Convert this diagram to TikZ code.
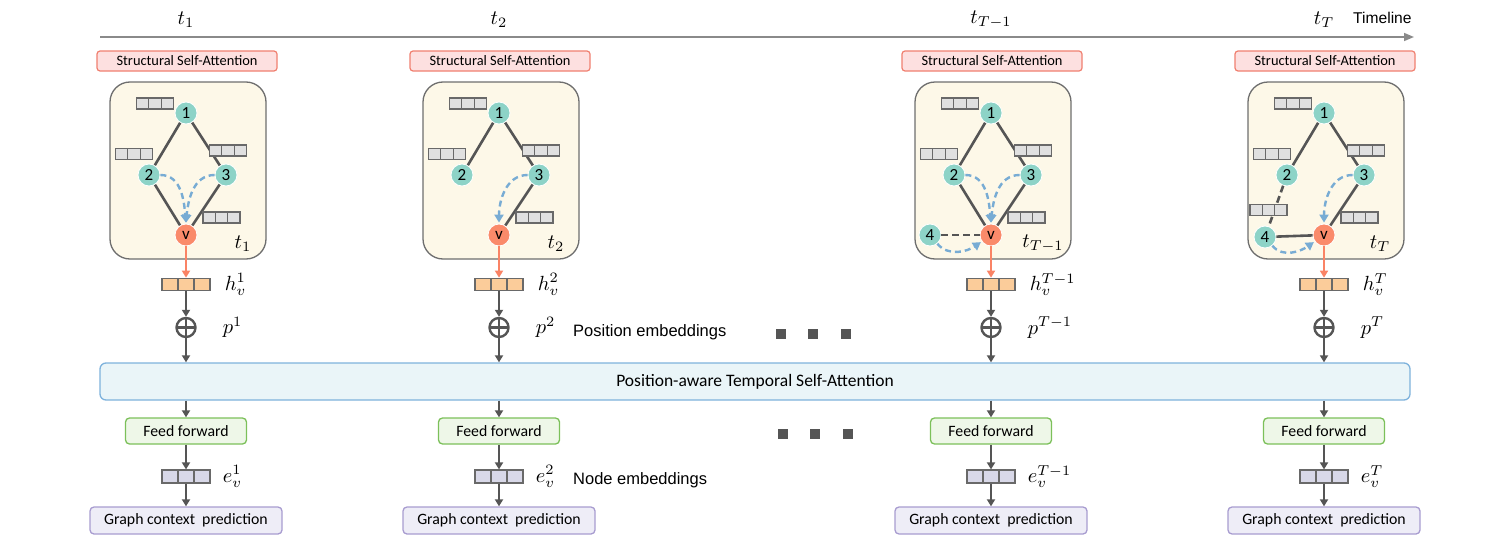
\RequirePackage{fix-cm}
\documentclass[tikz,border=0pt]{standalone}
\usepackage{graphicx}
\usepackage{fontspec}
\setmainfont{Carlito}
\newfontfamily\arialfont{Liberation Sans}
\newcommand{\mlab}[1]{\scalebox{2.05}{$#1$}}
\definecolor{ssaline}{RGB}{240,128,112}
\definecolor{ssafill}{RGB}{253,224,224}
\definecolor{snapfill}{RGB}{253,248,232}
\definecolor{snapline}{RGB}{110,110,110}
\definecolor{nodeteal}{RGB}{141,211,199}
\definecolor{nodev}{RGB}{250,138,106}
\definecolor{edgegray}{RGB}{85,85,85}
\definecolor{attblue}{RGB}{120,172,212}
\definecolor{cellgray}{RGB}{224,224,224}
\definecolor{cellline}{RGB}{105,105,105}
\definecolor{hfill}{RGB}{251,204,154}
\definecolor{efill}{RGB}{216,216,232}
\definecolor{tsafill}{RGB}{234,245,248}
\definecolor{tsaline}{RGB}{126,178,220}
\definecolor{fffill}{RGB}{238,247,232}
\definecolor{ffline}{RGB}{124,192,90}
\definecolor{gcpfill}{RGB}{238,237,247}
\definecolor{gcpline}{RGB}{168,156,208}
\definecolor{tlgray}{RGB}{138,138,138}
\usetikzlibrary{arrows.meta,positioning}
\tikzset{
  ssabox/.style={draw=ssaline, fill=ssafill, line width=1.2pt, rounded corners=3pt, minimum width=180pt, minimum height=20pt, inner sep=0pt, font=\fontsize{14.4}{16}\selectfont},
  snapbox/.style={draw=snapline, fill=snapfill, line width=1.3pt, rounded corners=20pt, minimum width=156pt, minimum height=177pt},
  gnode/.style={circle, fill=nodeteal, draw=white, line width=0.8pt, minimum size=22pt, inner sep=0pt, font=\fontsize{17}{17}\selectfont},
  vnode/.style={gnode, fill=nodev},
  cells/.style 2 args={draw=cellline, fill=#1, line width=1.2pt, minimum width=#2, minimum height=11pt, inner sep=0pt,
    path picture={\draw[cellline, line width=1.2pt]
      ([xshift=#2/3]path picture bounding box.north west) -- ([xshift=#2/3]path picture bounding box.south west)
      ([xshift=2*#2/3]path picture bounding box.north west) -- ([xshift=2*#2/3]path picture bounding box.south west);}},
  gedge/.style={edgegray, line width=2.6pt},
  gdash/.style={gedge, dash pattern=on 7pt off 4pt},
  attn/.style={-{Triangle[length=8pt,width=9pt]}, attblue, line width=2.4pt, dash pattern=on 6pt off 4pt, shorten >=1pt},
  flow/.style={-{Triangle[length=7pt,width=8pt]}, edgegray, line width=2.2pt},
  vflow/.style={flow, color=nodev!95!red},
  oplus/.style={circle, draw=edgegray, line width=2.4pt, minimum size=19pt, inner sep=0pt,
    path picture={\draw[edgegray, line width=2.4pt] (path picture bounding box.north) -- (path picture bounding box.south)
      (path picture bounding box.west) -- (path picture bounding box.east);}},
  tsabox/.style={draw=tsaline, fill=tsafill, line width=1.3pt, rounded corners=6pt, minimum width=1310pt, minimum height=37pt, font=\fontsize{17.5}{18}\selectfont},
  ffbox/.style={draw=ffline, fill=fffill, line width=1.3pt, rounded corners=4pt, minimum width=121pt, minimum height=26pt, font=\fontsize{15.8}{16}\selectfont},
  gcpbox/.style={draw=gcpline, fill=gcpfill, line width=1.3pt, rounded corners=4pt, minimum width=192pt, minimum height=27pt, font=\fontsize{15.8}{16}\selectfont},
  mlabel/.style={inner sep=0pt},
  sidetext/.style={inner sep=0pt, anchor=west, font=\arialfont\fontsize{16.5}{17}\selectfont},
  sqdot/.style={fill=edgegray, minimum size=10pt, inner sep=0pt},
  tline/.style={-{Triangle[length=10pt,width=8pt]}, tlgray, line width=1.5pt}
}
\begin{document}
\begin{tikzpicture}[x=1pt, y=-1pt]
  \useasboundingbox (0,0) rectangle (1504,546);
  % timeline
  \coordinate (tlstart) at (100,37);
  \coordinate (tlend) at (1414,37);
  \draw[tline] (tlstart) -- (tlend);
  \node[sidetext, font=\arialfont\fontsize{15.6}{16}\selectfont] (timeline) at (1353,18) {Timeline};
  % snapshots: structural self-attention
  \foreach \x/\i/\s/\dt in {186/1/1/57, 499/2/2/57, 991/3/T-1/52, 1324/4/T/56}{
    \node[mlabel] (t\i) at (\x,20) {\mlab{t_{\s}}};
    \node[ssabox] (ssa\i) at (\x+1,61) {Structural Self-Attention};
    \node[snapbox] (snap\i) at (\x+2,170.5) {};
    \node[mlabel] (ts\i) at (\x+\dt,244) {\mlab{t_{\s}}};
    \node[gnode] (one\i) at (\x,113) {1};
    \node[gnode] (two\i) at (\x-37,175) {2};
    \node[gnode] (thr\i) at (\x+40,175) {3};
    \node[vnode] (v\i) at (\x,235) {v};
  }
  \node[gnode] (four3) at (930,235) {4};
  \node[gnode] (four4) at (1265,237) {4};
  % graph edges
  \draw[gedge] (one1) -- (two1) (one1) -- (thr1) (two1) -- (v1) (thr1) -- (v1);
  \draw[gedge] (one2) -- (two2) (one2) -- (thr2) (thr2) -- (v2);
  \draw[gedge] (one3) -- (two3) (one3) -- (thr3) (two3) -- (v3) (thr3) -- (v3);
  \draw[gdash] (four3) -- (v3);
  \draw[gedge] (one4) -- (two4) (one4) -- (thr4) (thr4) -- (v4) (four4) -- (v4);
  \draw[gdash] (two4) -- (four4);
  % attention to v
  \draw[attn] (two1.east) to[out=0,in=95] (v1.north);
  \draw[attn] (thr1.west) to[out=180,in=85] (v1.north);
  \draw[attn] (thr2.west) to[out=180,in=90] (v2.north);
  \draw[attn] (two3.east) to[out=0,in=95] (v3.north);
  \draw[attn] (thr3.west) to[out=180,in=85] (v3.north);
  \draw[attn] (four3.-50) to[out=-50,in=-145] (v3.215);
  \draw[attn] (thr4.west) to[out=180,in=90] (v4.north);
  \draw[attn] (four4.-50) to[out=-50,in=-145] (v4.215);
  % temporal self-attention
  \node[tsabox] (tsa) at (755,381.5) {Position-aware Temporal Self-Attention};
  \foreach \x/\i/\s in {186/1/1, 499/2/2, 991/3/T-1, 1324/4/T}{
    \node[cells={cellgray}{37pt}] (c1\i) at (\x-31,103.5) {};
    \node[cells={cellgray}{37pt}] (c2\i) at (\x-52,154) {};
    \node[cells={cellgray}{37pt}] (c3\i) at (\x+42,150.5) {};
    \node[cells={cellgray}{37pt}] (cv\i) at (\x+35.5,217.5) {};
    \node[cells={hfill}{48pt}, minimum height=12.5pt] (h\i) at (\x,284.5) {};
    \node[oplus] (op\i) at (\x,327.5) {};
    \node[ffbox] (ff\i) at (\x,431) {Feed forward};
    \node[cells={efill}{48pt}, minimum height=13pt] (e\i) at (\x,476.5) {};
    \node[gcpbox] (gcp\i) at (\x,520.5) {Graph context\ \ prediction};
    \node[mlabel, right=14pt of h\i] (hl\i) {\mlab{h_v^{\s}}};
    \node[mlabel, anchor=west] (pl\i) at ([xshift=-2pt]hl\i.west |- op\i) {\mlab{p^{\s}}};
    \node[mlabel, right=12pt of e\i] (el\i) {\mlab{e_v^{\s}}};
    \draw[vflow] (v\i) -- (h\i);
    \draw[flow] (h\i) -- (op\i);
    \draw[flow] (op\i) -- (op\i |- tsa.north);
    \draw[flow] (ff\i |- tsa.south) -- (ff\i);
    \draw[flow] (ff\i) -- (e\i);
    \draw[flow] (e\i) -- (gcp\i);
  }
  \node[cells={cellgray}{37pt}] (c24) at (1268.5,210) {};
  % side notes and ellipses
  \node[sidetext] (posemb) at (573,332) {Position embeddings};
  \node[sidetext] (nodeemb) at (573,480) {Node embeddings};
  \foreach \dx [count=\k] in {781,813,846}{
    \node[sqdot] (dp\k) at (\dx,334) {};
    \node[sqdot] (df\k) at (\dx+2,434) {};
  }
\end{tikzpicture}
\end{document}
